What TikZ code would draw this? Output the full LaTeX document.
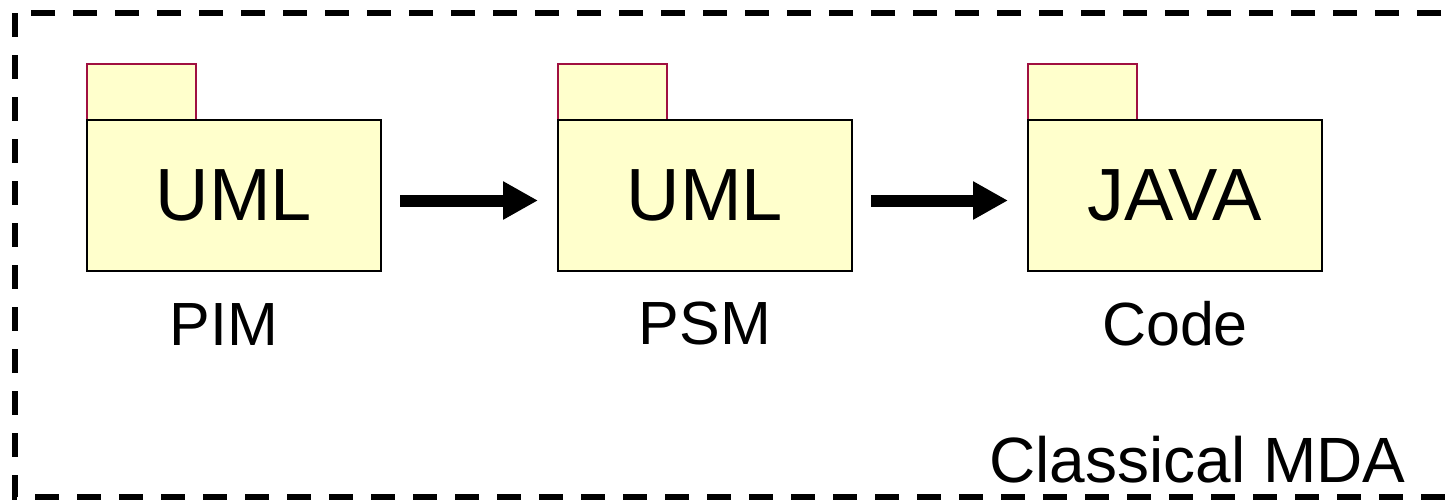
\documentclass[tikz,border=0pt]{standalone}
\usepackage{fontspec}
\setmainfont{Liberation Sans}
\usepackage{tikz}
\usetikzlibrary{arrows.meta,positioning}
\pgfdeclarelayer{background}
\pgfsetlayers{background,main}
\definecolor{pkgfill}{RGB}{255,255,204}
\definecolor{tabred}{RGB}{160,16,64}
\tikzstyle{package}=[draw=black,fill=pkgfill,line width=1pt,outer sep=0pt,minimum width=147pt,minimum height=75.5pt,inner sep=0pt,font=\fontsize{37}{44}\selectfont]
\tikzstyle{tab} = [draw=tabred,fill=pkgfill,line width=1pt,outer sep=0pt,minimum width=54.5pt,minimum height=28pt,inner sep=0pt]
\tikzstyle{caption} = [inner sep=0pt,font=\fontsize{30.5}{36}\selectfont]
\tikzstyle{transform} = [draw,line width=6pt,-{Triangle[length=17.5pt,width=18pt]},shorten <=9.5pt,shorten >=10pt]
\tikzstyle{frame} = [draw,line width=3pt,dash pattern=on 12pt off 9pt]

\begin{document}
\begin{tikzpicture}[x=0.5pt,y=-0.5pt]
    \useasboundingbox (0,0) rectangle (1452,499);
    % Dashed frame round the chain
    \draw[frame] (15,13) rectangle (1462,497);

    % First we draw the packages
    \foreach \pos/\name/\txt in {{(234,195.5)/pim/UML}, {(705,195.5)/psm/UML}, {(1175,195.5)/code/JAVA}}
        \node[package] (\name) at \pos {\txt};

    % Tabs sit behind the package bodies
    \begin{pgfonlayer}{background}
    \foreach \name in {pim, psm, code}
        \node[tab, anchor=south west] (\name tab) at (\name.north west) {};
    \end{pgfonlayer}

    % Captions under the packages
    \node[caption, below=16pt of pim, xshift=-5pt] (pimlabel) {PIM};
    \node[caption, below=15pt of psm] (psmlabel) {PSM};
    \node[caption, below=15pt of code] (codelabel) {Code};

    % Transformations
    \foreach \source/ \dest in {pim/psm, psm/code}
        \path[transform] ([yshift=-2.5pt]\source.east) -- ([yshift=-2.5pt]\dest.west);

    \node[caption, font=\fontsize{32}{38}\selectfont, anchor=south east] (mda) at (1406,484) {Classical MDA};
\end{tikzpicture}
\end{document}
